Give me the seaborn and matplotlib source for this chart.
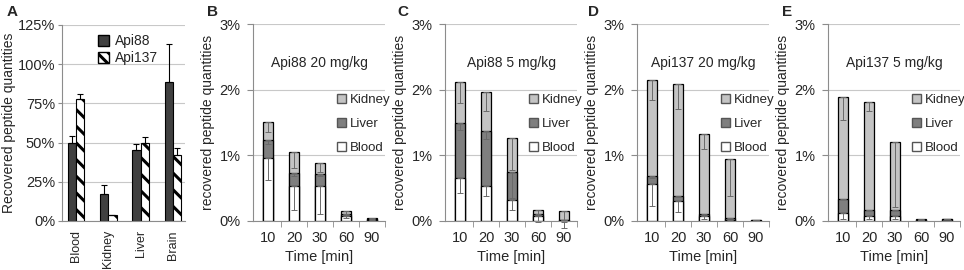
import numpy as np
import pandas as pd
import seaborn as sns
import matplotlib
matplotlib.use("Agg")
import matplotlib.pyplot as plt
from matplotlib.patches import Patch

# panel A: recovered quantities per organ
tissues = ["Blood", "Kidney", "Liver", "Brain"]
api88_vals = [49.8, 17.4, 45.1, 88.7]
api88_err = [4.5, 5.8, 4.3, 23.9]
api137_vals = [78.0, 3.6, 49.8, 42.3]
api137_err = [3.3, 0.0, 3.8, 4.3]

# panels B-E: stacked time courses (percent)
times = ["10", "20", "30", "60", "90"]
titles = ["Api88 20 mg/kg", "Api88 5 mg/kg", "Api137 20 mg/kg", "Api137 5 mg/kg"]
letters = ["B", "C", "D", "E"]
blood = [
    [0.96, 0.54, 0.54, 0.07, 0.02],
    [0.66, 0.54, 0.32, 0.08, 0.01],
    [0.57, 0.31, 0.07, 0.02, 0.005],
    [0.12, 0.08, 0.07, 0.01, 0.005],
]
liver = [
    [0.27, 0.19, 0.18, 0.03, 0.01],
    [0.83, 0.83, 0.43, 0.02, 0.01],
    [0.12, 0.07, 0.03, 0.03, 0.01],
    [0.22, 0.09, 0.09, 0.005, 0.02],
]
kidney = [
    [0.28, 0.32, 0.17, 0.05, 0.02],
    [0.62, 0.60, 0.52, 0.07, 0.13],
    [1.45, 1.70, 1.23, 0.89, 0.005],
    [1.55, 1.64, 1.05, 0.015, 0.005],
]
blood_err = [
    [0.34, 0.37, 0.43, 0.03, 0.01],
    [0.24, 0.16, 0.15, 0.10, 0.02],
    [0.34, 0.18, 0.04, 0.01, 0.0],
    [0.09, 0.05, 0.04, 0.0, 0.0],
]
liver_err = [
    [0.06, 0.05, 0.04, 0.02, 0.0],
    [0.11, 0.12, 0.40, 0.03, 0.0],
    [0.03, 0.02, 0.02, 0.01, 0.0],
    [0.0, 0.0, 0.0, 0.0, 0.0],
]
kidney_err = [
    [0.15, 0.24, 0.14, 0.04, 0.01],
    [0.31, 0.30, 0.50, 0.10, 0.26],
    [0.29, 0.38, 0.24, 0.56, 0.0],
    [0.35, 0.14, 1.00, 0.0, 0.0],
]

sns.set_style("white")
plt.rcParams["font.family"] = ["Liberation Sans", "DejaVu Sans"]
plt.rcParams["font.size"] = 10.5
plt.rcParams["hatch.linewidth"] = 2.2

fig = plt.figure(figsize=(9.64, 2.70), dpi=100)

grid_c = "#c8c8c8"
spine_c = "#8c8c8c"


def frame(ax):
    for s in ["top", "right"]:
        ax.spines[s].set_visible(False)
    ax.spines["left"].set_color(spine_c)
    ax.spines["bottom"].set_color(spine_c)
    ax.spines["left"].set_linewidth(0.8)
    ax.spines["bottom"].set_linewidth(0.8)
    ax.set_axisbelow(True)
    ax.yaxis.grid(True, color=grid_c, linewidth=0.8)


def unclip(container):
    for art in container.lines[1] + container.lines[2]:
        art.set_clip_on(False)


# ---- panel A ----
axA = fig.add_axes([62 / 964, 1 - 221 / 270, 123 / 964, 196 / 270])
dfA = pd.DataFrame({
    "tissue": tissues * 2,
    "value": api88_vals + api137_vals,
    "peptide": ["Api88"] * 4 + ["Api137"] * 4,
})
sns.barplot(data=dfA, x="tissue", y="value", hue="peptide", order=tissues,
            palette=["#404040", "white"], width=0.52, edgecolor="black",
            linewidth=0.8, legend=False, ax=axA)
bars = axA.patches
for p in bars[4:8]:
    p.set_hatch("\\\\")
xs = [p.get_x() + p.get_width() / 2 for p in bars[:8]]
tops = [p.get_height() for p in bars[:8]]
axA.errorbar(xs, tops, yerr=[np.zeros(8), api88_err + api137_err], fmt="none",
             ecolor="black", elinewidth=0.8, capsize=2.5, capthick=0.8)
frame(axA)
axA.set_ylim(0, 125)
axA.set_xlim(-0.43, 3.37)
axA.set_yticks([0, 25, 50, 75, 100, 125])
axA.set_yticklabels([f"{v}%" for v in [0, 25, 50, 75, 100, 125]])
axA.tick_params(axis="y", left=True, length=3, color=spine_c, pad=2)
axA.tick_params(axis="x", bottom=False, rotation=90, pad=3, labelsize=9)
axA.set_xlabel("")
axA.set_ylabel("Recovered peptide quantities", labelpad=1, fontsize=10)
axA.legend(handles=[Patch(facecolor="#404040", edgecolor="black", label="Api88"),
                    Patch(facecolor="white", edgecolor="black", hatch="\\\\\\", label="Api137")],
           loc="upper left", bbox_to_anchor=(0.25, 0.98), frameon=False, fontsize=10,
           handlelength=0.8, handleheight=0.8, handletextpad=0.4,
           labelspacing=0.2, borderaxespad=0)
fig.text(7 / 964, 1 - 12 / 270, "A", fontsize=11, fontweight="bold", va="center")

# ---- panels B-E ----
lefts = [253, 445, 637, 828]
letter_x = [207, 397, 588, 782]
colors = {"Kidney": "#c4c4c4", "Liver": "#7f7f7f", "Blood": "white"}
pos = np.arange(len(times))

for i in range(4):
    ax = fig.add_axes([lefts[i] / 964, 1 - 221 / 270, 132 / 964, 197 / 270])
    b = np.array(blood[i])
    l = np.array(liver[i])
    k = np.array(kidney[i])
    levels = [("Kidney", b + l + k), ("Liver", b + l), ("Blood", b)]
    for name, vals in levels:
        sns.barplot(x=times, y=vals, order=times, color=colors[name], width=0.4,
                    edgecolor="black", linewidth=0.9, saturation=1, ax=ax)
    for vals, err in [(b + l + k, kidney_err[i]), (b + l, liver_err[i]), (b, blood_err[i])]:
        eb = ax.errorbar(pos, vals, yerr=[err, np.zeros(5)], fmt="none", ecolor="#6a6a6a",
                         elinewidth=0.7, capsize=2, capthick=0.7)
        unclip(eb)
    frame(ax)
    ax.set_ylim(0, 3)
    ax.set_xlim(-0.58, 4.5)
    ax.set_yticks([0, 1, 2, 3])
    ax.set_yticklabels(["0%", "1%", "2%", "3%"])
    ax.tick_params(axis="y", left=True, length=4, color=spine_c, pad=5)
    ax.set_xticks(pos + 0.5, minor=True)
    ax.tick_params(axis="x", which="minor", bottom=True, length=4, color=spine_c)
    ax.tick_params(axis="x", which="major", bottom=False, pad=4)
    ax.set_xlabel("Time [min]", labelpad=3)
    ax.set_ylabel("recovered peptide quantities", labelpad=3, fontsize=10)
    ax.text(0.5, 0.8, titles[i], transform=ax.transAxes, ha="center", va="center",
            fontsize=10)
    ax.legend(handles=[Patch(facecolor=colors[n], edgecolor="#555555", label=n)
                       for n in ["Kidney", "Liver", "Blood"]],
              loc="upper left", bbox_to_anchor=(0.635, 0.645), frameon=False, fontsize=9.5,
              handlelength=0.7, handleheight=0.7, handletextpad=0.3,
              labelspacing=0.9, borderaxespad=0, borderpad=0)
    fig.text(letter_x[i] / 964, 1 - 12 / 270, letters[i], fontsize=11,
             fontweight="bold", va="center")

fig.savefig("out.png", dpi=100)
